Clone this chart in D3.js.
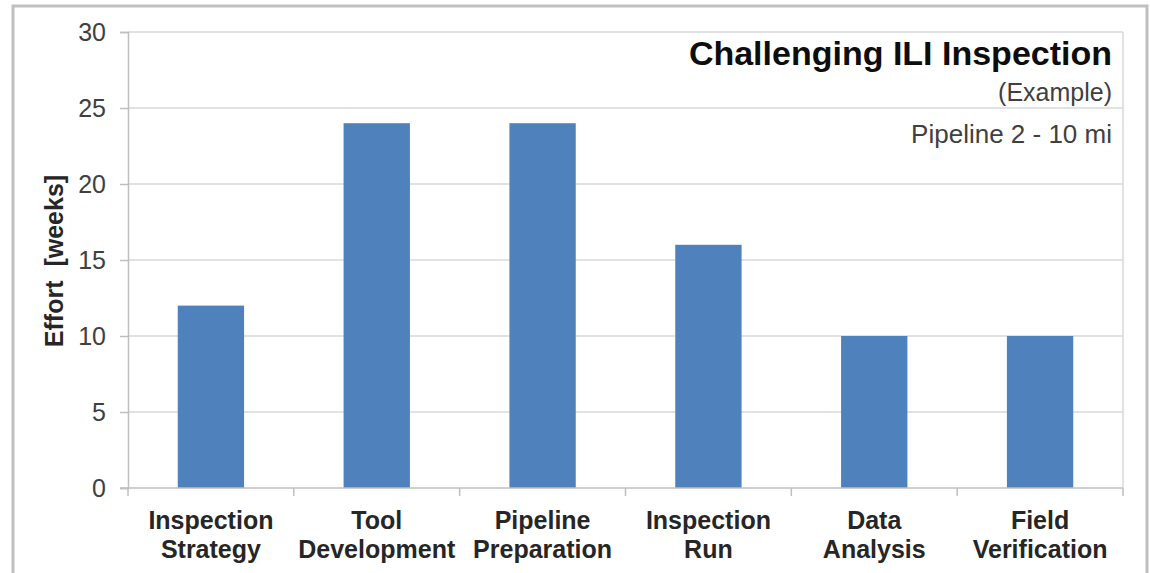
<!DOCTYPE html>
<html>
<head>
<meta charset="utf-8">
<script src="https://cdn.jsdelivr.net/npm/d3@7"></script>
<style>
  html, body { margin: 0; padding: 0; background: #fff; }
  svg { display: block; }
  text { font-family: "Liberation Sans", Arial, Helvetica, sans-serif; }
</style>
</head>
<body>
<svg id="chart" width="1150" height="573"></svg>
<script>
// Effort per phase of a challenging in-line inspection project
const categories = [
  "Inspection\nStrategy",
  "Tool\nDevelopment",
  "Pipeline\nPreparation",
  "Inspection\nRun",
  "Data\nAnalysis",
  "Field\nVerification"
];
const effortWeeks = [12, 24, 24, 16, 10, 10];
const yTicks = [0, 5, 10, 15, 20, 25, 30];
const titleText = "Challenging ILI Inspection";
const subtitleText = "(Example)";
const noteText = "Pipeline 2 - 10 mi";
const yAxisTitle = "Effort  [weeks]";

const svg = d3.select("#chart");
const plot = { left: 128, right: 1123, top: 32, bottom: 488 };

// outer chart frame
svg.append("rect")
  .attr("x", 13).attr("y", 6)
  .attr("width", 1134).attr("height", 590)
  .attr("fill", "#fff")
  .attr("stroke", "#bfbfbf").attr("stroke-width", 3);

const x = d3.scaleBand()
  .domain(categories)
  .range([plot.left, plot.right])
  .padding(0);

const y = d3.scaleLinear()
  .domain([0, 30])
  .range([plot.bottom, plot.top]);

// horizontal gridlines
svg.append("g")
  .selectAll("line")
  .data(yTicks.filter(d => d > 0))
  .join("line")
  .attr("x1", plot.left).attr("x2", plot.right)
  .attr("y1", d => y(d)).attr("y2", d => y(d))
  .attr("stroke", "#d9d9d9").attr("stroke-width", 1.5);

// right border of plot area
svg.append("line")
  .attr("x1", plot.right).attr("x2", plot.right)
  .attr("y1", plot.top).attr("y2", plot.bottom)
  .attr("stroke", "#d9d9d9").attr("stroke-width", 1.5);

// bars
const barFrac = 0.4;
svg.append("g")
  .selectAll("rect")
  .data(categories.map((c, i) => ({ c, v: effortWeeks[i] })))
  .join("rect")
  .attr("x", d => x(d.c) + x.bandwidth() * (1 - barFrac) / 2)
  .attr("width", x.bandwidth() * barFrac)
  .attr("y", d => y(d.v))
  .attr("height", d => y(0) - y(d.v))
  .attr("fill", "#4f81bd");

// y axis
const yAxis = svg.append("g")
  .attr("transform", `translate(${plot.left},0)`)
  .call(d3.axisLeft(y).tickValues(yTicks).tickSize(8).tickPadding(14));
yAxis.select(".domain").attr("stroke", "#bfbfbf").attr("stroke-width", 1.5);
yAxis.selectAll(".tick line").attr("stroke", "#bfbfbf").attr("stroke-width", 1.5);
yAxis.selectAll(".tick text")
  .attr("fill", "#404040")
  .style("font-size", "25px");

// x axis line and boundary ticks
svg.append("line")
  .attr("x1", plot.left - 8).attr("x2", plot.right)
  .attr("y1", plot.bottom).attr("y2", plot.bottom)
  .attr("stroke", "#bfbfbf").attr("stroke-width", 1.5);
const boundaries = categories.map(c => x(c)).concat([x(categories[categories.length - 1]) + x.bandwidth()]);
svg.append("g")
  .selectAll("line")
  .data(boundaries)
  .join("line")
  .attr("x1", d => d).attr("x2", d => d)
  .attr("y1", plot.bottom).attr("y2", plot.bottom + 8)
  .attr("stroke", "#bfbfbf").attr("stroke-width", 1.5);

// category labels (two lines each)
const catLabels = svg.append("g")
  .selectAll("text")
  .data(categories)
  .join("text")
  .attr("text-anchor", "middle")
  .attr("fill", "#262626")
  .style("font-size", "25px")
  .style("font-weight", "bold");
catLabels.each(function (d) {
  const t = d3.select(this);
  d.split("\n").forEach((line, i) => {
    t.append("tspan")
      .attr("x", x(d) + x.bandwidth() / 2)
      .attr("y", 529 + i * 29)
      .text(line);
  });
});

// y axis title
svg.append("text")
  .attr("transform", `translate(63,${(plot.top + plot.bottom) / 2 + 1}) rotate(-90)`)
  .attr("text-anchor", "middle")
  .attr("fill", "#262626")
  .style("font-size", "25px")
  .style("font-weight", "bold")
  .style("white-space", "pre")
  .text(yAxisTitle);

// title block
svg.append("text")
  .attr("x", 1112).attr("y", 65)
  .attr("text-anchor", "end")
  .attr("fill", "#0d0d0d")
  .style("font-size", "34px")
  .style("font-weight", "bold")
  .text(titleText);

svg.append("text")
  .attr("x", 1112).attr("y", 101)
  .attr("text-anchor", "end")
  .attr("fill", "#404040")
  .style("font-size", "25px")
  .text(subtitleText);

svg.append("text")
  .attr("x", 1112).attr("y", 143)
  .attr("text-anchor", "end")
  .attr("fill", "#404040")
  .style("font-size", "26px")
  .text(noteText);
</script>
</body>
</html>
